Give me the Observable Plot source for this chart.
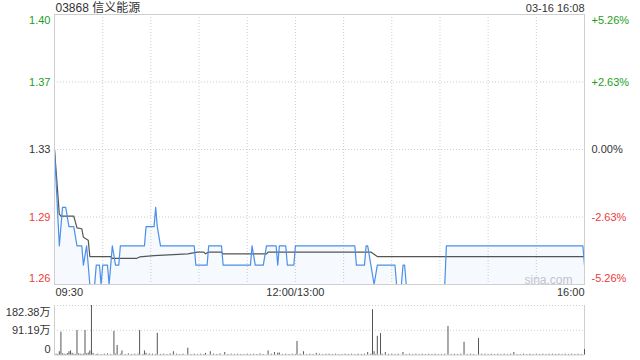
<!DOCTYPE html>
<html>
<head>
<meta charset="utf-8">
<script src="https://cdn.jsdelivr.net/npm/d3@7"></script>
<script src="https://cdn.jsdelivr.net/npm/@observablehq/plot@0.6"></script>
<style>
  html, body { margin: 0; padding: 0; background: #fff; }
  #wrap { position: relative; width: 640px; height: 360px; overflow: hidden; }
  #wrap svg { position: absolute; left: 0; }
</style>
</head>
<body>
<div id="wrap"></div>
<script>
// ---- chart text ----
const titleText = "03868 信义能源";
const stampText = "03-16 16:08";
const watermark = "sina.com";

// ---- time axis (minutes since 09:30, lunch break removed) ----
const timeTicks = [0, 150, 330];
const timeLabels = ["09:30", "12:00/13:00", "16:00"];
const gridMinutes = [30, 60, 90, 120, 150, 180, 210, 240, 270, 300];

// ---- price axis ----
const prevClose = 1.33;
const priceTicks = [1.26, 1.295, 1.33, 1.365, 1.40];
const priceLabels = ["1.26", "1.29", "1.33", "1.37", "1.40"];
const pctLabels = ["-5.26%", "-2.63%", "0.00%", "+2.63%", "+5.26%"];

// ---- price line (minute, price) ----
const priceMin = [0,3,5,7,9,12,14,17,18,20,22,25,26,28,29,30,33,34,36,38,40,41,56,57,62,63,64,66,87,88,95,96,104,105,122,123,125,130,132,138,139,140,144,145,149,150,187,188,193,194,195,197,199,201,212,213,216,217,218,219,243,244,329,330];
const priceVal = [1.33,1.28,1.30,1.30,1.29,1.29,1.28,1.28,1.27,1.28,1.26,1.26,1.27,1.27,1.26,1.27,1.27,1.26,1.28,1.27,1.27,1.28,1.28,1.29,1.29,1.30,1.29,1.28,1.28,1.27,1.27,1.28,1.28,1.27,1.27,1.28,1.27,1.27,1.28,1.28,1.27,1.28,1.28,1.27,1.27,1.28,1.28,1.27,1.27,1.28,1.28,1.27,1.26,1.27,1.27,1.26,1.26,1.27,1.27,1.26,1.26,1.28,1.28,1.27];

// ---- average price line (minute, value) ----
const avgMin = [0,3,4,12,14,17,18,21,22,35,36,51,53,62,83,89,93,94,96,104,105,132,133,197,201,330];
const avgVal = [1.33,1.2965,1.2955,1.2955,1.2894,1.2889,1.2845,1.2830,1.2745,1.2745,1.2735,1.2735,1.2743,1.2750,1.2759,1.2768,1.2768,1.2759,1.2768,1.2768,1.2759,1.2759,1.2768,1.2768,1.2745,1.2745];

// ---- volume (万 shares) ----
const volTicks = [0, 91.19, 182.38];
const volLabels = ["0", "91.19万", "182.38万"];
const volMin = [3,4,9,10,11,14,19,21,22,23,24,37,39,42,53,56,57,64,74,83,94,97,106,133,137,139,140,151,155,163,195,198,199,201,203,206,217,245,255,264,286,330];
const volVal = [12,84,12,15,6,90,90,7,15,182.38,6,87,35,15,90,15,6,80,12,25,6,12,9,15,9,7,7,50,12,6,9,167,12,69,79,9,9,105,47,61,9,20];
const tinyMin = [1,2,5,6,7,8,12,13,15,16,17,18,20,26,27,29,31,33,35,38,41,44,46,48,50,52,55,59,61,63,66,68,70,72,76,78,80,85,87,89,91,93,99,101,103,108,110,112,114,116,118,120,122,124,126,128,130,135,142,144,146,148,150,153,157,159,161,165,167,169,171,173,175,177,179,181,183,185,187,189,191,193,197,200,204,208,210,212,214,219,221,223,225,227,229,231,233,235,237,239,241,243,247,249,251,253,257,259,261,266,268,270,272,274,276,278,280,282,284,288,290,292,294,296,298,300,302,304,306,308,310,312,314,316,318,320,322,324,326,328];
const tinyVal = [3,2,4,3,2,5,3,2,4,3, 2,3,4,2,3,2,3,4,2,3, 3,2,4,2,3,3,2,4,3,2, 2,3,2,4,3,2,3,2,3,2, 3,2,3,2,4,2,3,2,3,2, 2,3,2,3,2,4,2,3,2,3, 2,3,2,3,2,3,2,3,2,3, 3,2,3,2,2,3,2,3,2,3, 2,3,3,2,3,2,3,2,3,2, 3,2,3,2,3,2,3,2,3,2, 2,3,2,3,2,3,2,3,2,3, 3,2,3,2,3,2,3,2,3,2, 2,3,2,3,2,3,2,3,2,3, 3,2,3,2,3,2,3,2,3,2];

// ---- build tables ----
const price = priceMin.map((m, i) => ({m, p: priceVal[i]}));
const avg = avgMin.map((m, i) => ({m, p: avgVal[i]}));
const vol = volMin.map((m, i) => ({m, v: volVal[i]}))
  .concat(tinyMin.map((m, i) => ({m, v: tinyVal[i]})));
const pAxis = priceTicks.map((v, i) => ({
  v, label: priceLabels[i], pct: pctLabels[i],
  color: v > prevClose + 1e-9 ? "#1d9e1d" : (v < prevClose - 1e-9 ? "#ee3b3b" : "#333")
}));
const vAxis = volTicks.map((v, i) => ({v, label: volLabels[i]}));
const tAxis = timeTicks.map((m, i) => ({m, label: timeLabels[i]}));

const FONT = "Arial, 'Liberation Sans', 'Noto Sans CJK SC', sans-serif";
const GRID = "#cfcfcf";
const LINE = "#4a8fe8";

const priceChart = Plot.plot({
  width: 640, height: 300,
  marginLeft: 54, marginRight: 56, marginTop: 14, marginBottom: 16,
  style: {fontFamily: FONT, fontSize: "11px", background: "transparent", overflow: "visible"},
  x: {domain: [0, 330], axis: null},
  y: {domain: [1.26, 1.40], axis: null},
  color: {type: "identity"},
  marks: [
    Plot.ruleX(gridMinutes, {stroke: GRID, strokeDasharray: "1,2"}),
    Plot.ruleY([1.295, 1.33, 1.365], {stroke: GRID, strokeDasharray: "1,2"}),
    Plot.text([watermark], {frameAnchor: "bottom-right", lineAnchor: "bottom", dx: -12, dy: -1, fill: "#c8c8c8", fontSize: 12}),
    Plot.areaY(price, {x: "m", y1: 1.26, y2: "p", fill: LINE, fillOpacity: 0.05}),
    Plot.line(avg, {x: "m", y: "p", stroke: "#555", strokeWidth: 1.2}),
    Plot.line(price, {x: "m", y: "p", stroke: LINE, strokeWidth: 1.2}),
    Plot.frame({stroke: GRID}),
    // left price labels
    Plot.text(pAxis, {filter: d => d.v === 1.40, y: "v", text: "label", fill: "color", frameAnchor: "left", textAnchor: "end", dx: -4, dy: 6}),
    Plot.text(pAxis, {filter: d => d.v === 1.26, y: "v", text: "label", fill: "color", frameAnchor: "left", textAnchor: "end", dx: -4, dy: -6}),
    Plot.text(pAxis, {filter: d => d.v > 1.26 && d.v < 1.40, y: "v", text: "label", fill: "color", frameAnchor: "left", textAnchor: "end", dx: -4}),
    // right percent labels
    Plot.text(pAxis, {filter: d => d.v === 1.40, y: "v", text: "pct", fill: "color", frameAnchor: "right", textAnchor: "start", dx: 7, dy: 6}),
    Plot.text(pAxis, {filter: d => d.v === 1.26, y: "v", text: "pct", fill: "color", frameAnchor: "right", textAnchor: "start", dx: 7, dy: -6}),
    Plot.text(pAxis, {filter: d => d.v > 1.26 && d.v < 1.40, y: "v", text: "pct", fill: "color", frameAnchor: "right", textAnchor: "start", dx: 7}),
    // time labels
    Plot.text(tAxis, {filter: d => d.m === 0, x: "m", text: "label", frameAnchor: "bottom", lineAnchor: "middle", textAnchor: "start", dx: 1, dy: 8, fill: "#333"}),
    Plot.text(tAxis, {filter: d => d.m === 150, x: "m", text: "label", frameAnchor: "bottom", lineAnchor: "middle", textAnchor: "middle", dy: 8, fill: "#333"}),
    Plot.text(tAxis, {filter: d => d.m === 330, x: "m", text: "label", frameAnchor: "bottom", lineAnchor: "middle", textAnchor: "end", dy: 8, fill: "#333"}),
    // title & stamp
    Plot.text([titleText], {frameAnchor: "top-left", lineAnchor: "middle", textAnchor: "start", dx: 1, dy: -6.5, fill: "#333", fontSize: 12}),
    Plot.text([stampText], {frameAnchor: "top-right", lineAnchor: "middle", textAnchor: "end", dy: -6.5, fill: "#333", fontSize: 11})
  ]
});
priceChart.style.top = "0px";

const volChart = Plot.plot({
  width: 640, height: 60,
  marginLeft: 54, marginRight: 56, marginTop: 5, marginBottom: 5.5,
  style: {fontFamily: FONT, fontSize: "11px", background: "transparent", overflow: "visible"},
  x: {domain: [0, 330], axis: null},
  y: {domain: [0, 182.38], axis: null},
  marks: [
    Plot.ruleY([91.19, 182.38], {stroke: GRID, strokeDasharray: "1,2"}),
    Plot.ruleX([0, 330], {stroke: GRID}),
    Plot.ruleY([0], {stroke: GRID}),
    Plot.ruleX(vol, {x: "m", y1: 0, y2: "v", stroke: "#555"}),
    Plot.text(vAxis, {filter: d => d.v === 182.38, y: "v", text: "label", frameAnchor: "left", textAnchor: "end", dx: -4, dy: 7, fill: "#333"}),
    Plot.text(vAxis, {filter: d => d.v === 91.19, y: "v", text: "label", frameAnchor: "left", textAnchor: "end", dx: -4, fill: "#333"}),
    Plot.text(vAxis, {filter: d => d.v === 0, y: "v", text: "label", frameAnchor: "left", textAnchor: "end", dx: -4, dy: -6, fill: "#333"})
  ]
});
volChart.style.top = "300px";

const wrap = document.getElementById("wrap");
wrap.appendChild(priceChart);
wrap.appendChild(volChart);
</script>
</body>
</html>
